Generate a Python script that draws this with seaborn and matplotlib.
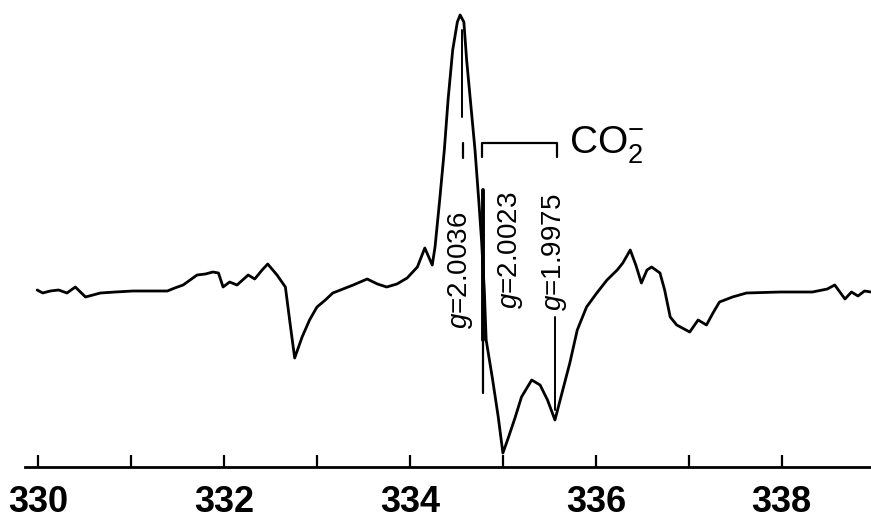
import matplotlib
matplotlib.use("Agg")
import matplotlib.pyplot as plt
import seaborn as sns
import pandas as pd

# Magnetic field (mT) and EPR signal (arbitrary units)
field = [329.99, 330.05, 330.13, 330.22, 330.31, 330.40, 330.51, 330.67, 330.83, 331.02,
         331.20, 331.39, 331.47, 331.56, 331.71, 331.80, 331.88, 331.94, 331.99, 332.06,
         332.14, 332.26, 332.33, 332.41, 332.47, 332.57, 332.66, 332.71, 332.76, 332.84,
         332.92, 333.00, 333.09, 333.17, 333.28, 333.39, 333.54, 333.65, 333.75, 333.86,
         333.97, 334.08, 334.16, 334.24, 334.27, 334.32, 334.37, 334.41, 334.46, 334.51,
         334.54, 334.58, 334.61, 334.65, 334.70, 334.74, 334.77, 334.80, 334.82, 334.89,
         334.95, 335.00, 335.05, 335.13, 335.20, 335.31, 335.40, 335.48, 335.56, 335.63,
         335.72, 335.80, 335.90, 336.01, 336.12, 336.23, 336.29, 336.37, 336.43, 336.49,
         336.55, 336.60, 336.69, 336.74, 336.80, 336.87, 337.01, 337.10, 337.19, 337.26,
         337.33, 337.47, 337.62, 337.98, 338.33, 338.49, 338.57, 338.68, 338.75, 338.82,
         338.89, 338.96]
signal = [2, -1, 1, 2, -1, 5, -5, -1, 0, 1,
          1, 1, 4, 7, 17, 18, 20, 19, 5, 10,
          7, 17, 13, 22, 28, 17, 5, -31, -66, -45,
          -28, -15, -8, -1, 3, 7, 13, 8, 5, 8,
          14, 25, 44, 27, 45, 92, 142, 192, 242, 270,
          277, 270, 232, 192, 142, 92, 52, 2, -48, -88,
          -125, -161, -148, -126, -105, -88, -93, -108, -128, -103,
          -71, -38, -15, -1, 12, 22, 29, 42, 27, 9,
          22, 25, 19, 2, -25, -33, -40, -28, -33, -21,
          -10, -5, -1, 0, 0, 3, 7, -7, 0, -4,
          1, 0]

tick_values = [330, 331, 332, 333, 334, 335, 336, 337, 338]
tick_labels = ["330", "", "332", "", "334", "", "336", "", "338"]

g_labels = [r"$g$=2.0036", r"$g$=2.0023", r"$g$=1.9975"]
g_label_x = [334.54, 335.08, 335.55]
g_label_y = [22, 42, 40]
species_label = r"CO$_2^{-}$"

sns.set_style("white")
plt.rcParams["font.family"] = ["Liberation Sans", "DejaVu Sans"]
plt.rcParams["mathtext.fontset"] = "custom"
plt.rcParams["mathtext.rm"] = "Liberation Sans"
plt.rcParams["mathtext.it"] = "Liberation Sans:italic"
plt.rcParams["text.color"] = "black"
plt.rcParams["xtick.color"] = "black"
plt.rcParams["xtick.labelcolor"] = "black"

df = pd.DataFrame({"field": field, "signal": signal})

fig = plt.figure(figsize=(8.71, 5.25), dpi=100)
ax = fig.add_axes([0, 58 / 525, 1, 467 / 525])
sns.lineplot(data=df, x="field", y="signal", ax=ax, color="black", linewidth=2.0)

ax.set_xlim(329.59, 338.96)
ax.set_ylim(-175, 292)
for s in ["left", "right", "top"]:
    ax.spines[s].set_visible(False)
ax.spines["bottom"].set_linewidth(2.0)
ax.spines["bottom"].set_color("black")
ax.spines["bottom"].set_bounds(329.86, 338.96)
ax.set_yticks([])
ax.set_xticks(tick_values)
ax.set_xticklabels(tick_labels, fontsize=26, fontweight="bold", color="black")
ax.tick_params(axis="x", bottom=True, direction="in", length=9, width=1.6,
               color="black", pad=13)
ax.set_xlabel("")
ax.set_ylabel("")

# g-value markers
ax.plot([334.785, 334.785], [102, -101], color="black", linewidth=1.6)
ax.plot([334.785, 334.785], [102, -48], color="black", linewidth=2.8)
ax.plot([335.56, 335.56], [-25, -118], color="black", linewidth=1.4)
ax.plot([334.56, 334.56], [262, 175], color="black", linewidth=1.4)
ax.plot([334.57, 334.57], [149, 134], color="black", linewidth=1.6)
# bracket for CO2-
ax.plot([334.775, 334.775, 335.58, 335.58], [135, 149, 149, 135], color="black", linewidth=1.6)

for lab, gx, gy in zip(g_labels, g_label_x, g_label_y):
    ax.text(gx, gy, lab, rotation=90, ha="center", va="center", fontsize=20, color="black")

ax.text(335.71, 147, species_label, ha="left", va="center", fontsize=28, color="black")

fig.savefig("out.png", dpi=100)
